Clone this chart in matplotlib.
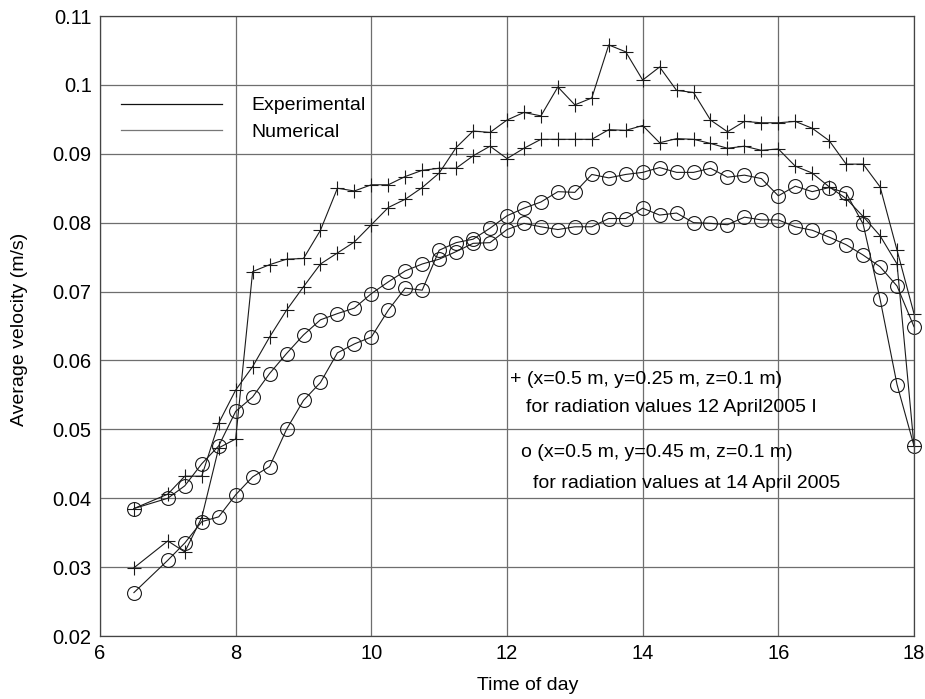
import numpy as np
import matplotlib
matplotlib.use("Agg")
import matplotlib.pyplot as plt
from matplotlib.lines import Line2D

plt.rcParams['font.family'] = ['Liberation Sans', 'DejaVu Sans']

# time of day, 15 min steps (6.75 missing)
hours = [6.5] + [7.0 + 0.25 * i for i in range(45)]

# "+" series, x=0.5 m, y=0.25 m
plus_a = [0.0299, 0.0338, 0.0322, 0.0372, 0.0473, 0.0486, 0.0729, 0.0739, 0.0747, 0.0748,
          0.0789, 0.0850, 0.0846, 0.0855, 0.0855, 0.0867, 0.0876, 0.0879, 0.0879, 0.0897,
          0.0911, 0.0893, 0.0908, 0.0921, 0.0921, 0.0921, 0.0921, 0.0935, 0.0934, 0.0941,
          0.0916, 0.0922, 0.0921, 0.0915, 0.0908, 0.0911, 0.0905, 0.0907, 0.0882, 0.0872,
          0.0852, 0.0835, 0.0809, 0.0781, 0.0740, 0.0476]
plus_b = [0.0385, 0.0406, 0.0432, 0.0432, 0.0509, 0.0557, 0.0591, 0.0634, 0.0673, 0.0707,
          0.0740, 0.0756, 0.0772, 0.0797, 0.0822, 0.0834, 0.0851, 0.0872, 0.0909, 0.0933,
          0.0931, 0.0949, 0.0960, 0.0955, 0.0997, 0.0971, 0.0981, 0.1058, 0.1048, 0.1007,
          0.1026, 0.0992, 0.0989, 0.0949, 0.0932, 0.0947, 0.0945, 0.0945, 0.0947, 0.0937,
          0.0919, 0.0885, 0.0885, 0.0852, 0.0760, 0.0668]

# "o" series, x=0.5 m, y=0.45 m
circ_a = [0.0385, 0.0400, 0.0418, 0.0450, 0.0476, 0.0526, 0.0547, 0.0581, 0.0610, 0.0637,
          0.0659, 0.0668, 0.0676, 0.0697, 0.0714, 0.0730, 0.0740, 0.0747, 0.0758, 0.0770,
          0.0771, 0.0790, 0.0799, 0.0794, 0.0790, 0.0794, 0.0794, 0.0806, 0.0806, 0.0821,
          0.0811, 0.0814, 0.0800, 0.0799, 0.0797, 0.0808, 0.0804, 0.0804, 0.0794, 0.0789,
          0.0779, 0.0768, 0.0753, 0.0736, 0.0708, 0.0649]
circ_b = [0.0263, 0.0310, 0.0335, 0.0366, 0.0373, 0.0405, 0.0431, 0.0446, 0.0500, 0.0542,
          0.0568, 0.0611, 0.0624, 0.0634, 0.0673, 0.0705, 0.0702, 0.0760, 0.0771, 0.0776,
          0.0792, 0.0810, 0.0821, 0.0830, 0.0845, 0.0844, 0.0870, 0.0865, 0.0870, 0.0873,
          0.0880, 0.0873, 0.0873, 0.0879, 0.0866, 0.0869, 0.0864, 0.0839, 0.0853, 0.0845,
          0.0851, 0.0843, 0.0798, 0.0689, 0.0565, 0.0476]

fig = plt.figure(figsize=(9.25, 6.99), dpi=100)
ax = fig.add_axes([100/925, 1-636/699, 814/925, 620/699])

lc = '#1a1a1a'
ax.plot(hours, plus_a, color=lc, lw=0.8, marker='+', ms=10, mew=0.8, clip_on=False)
ax.plot(hours, plus_b, color=lc, lw=0.8, marker='+', ms=10, mew=0.8, clip_on=False)
ax.plot(hours, circ_a, color=lc, lw=0.8, marker='o', ms=10, mew=0.8, mfc='none', clip_on=False)
ax.plot(hours, circ_b, color=lc, lw=0.8, marker='o', ms=10, mew=0.8, mfc='none', clip_on=False)

ax.set_xlim(6, 18)
ax.set_ylim(0.02, 0.11)
ax.set_xticks([6, 8, 10, 12, 14, 16, 18])
ax.set_yticks([0.02, 0.03, 0.04, 0.05, 0.06, 0.07, 0.08, 0.09, 0.1, 0.11])
ax.set_yticklabels(['0.02', '0.03', '0.04', '0.05', '0.06', '0.07', '0.08', '0.09', '0.1', '0.11'])
ax.grid(True, color='#6e6e6e', lw=0.9)
ax.tick_params(length=0, labelsize=14.5, pad=6)
for s in ax.spines.values():
    s.set_color('#444444')
    s.set_linewidth(0.9)

ax.set_xlabel('Time of day', fontsize=14)
ax.set_ylabel('Average velocity (m/s)', fontsize=14)
ax.xaxis.set_label_coords(0.525, -0.066)
ax.yaxis.set_label_coords(-0.088, 0.494)

handles = [Line2D([], [], color='#111111', lw=0.9), Line2D([], [], color='#777777', lw=0.9)]
ax.legend(handles, ['Experimental', 'Numerical'], loc='upper left',
          bbox_to_anchor=(0.004, 0.898), frameon=False, fontsize=14,
          handlelength=5.2, handletextpad=1.5, labelspacing=0.45)

ax.text(12.04, 0.0573, '+ (x=0.5 m, y=0.25 m, z=0.1 m)', fontsize=14, va='center')
ax.text(12.28, 0.0532, 'for radiation values 12 April2005 I', fontsize=14, va='center')
ax.text(12.21, 0.0467, 'o (x=0.5 m, y=0.45 m, z=0.1 m)', fontsize=14, va='center')
ax.text(12.38, 0.0422, 'for radiation values at 14 April 2005', fontsize=14, va='center')

fig.savefig('out.png', dpi=100)
